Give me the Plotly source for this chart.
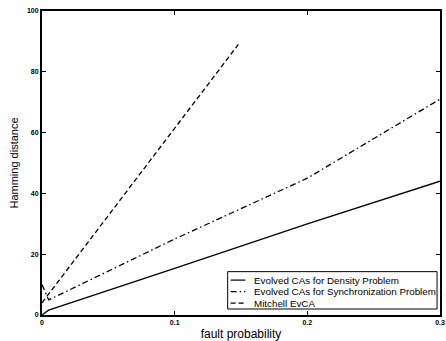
import plotly.graph_objects as go

density_x = [0, 0.005, 0.1, 0.2, 0.3]
density_y = [0, 1.6, 15.3, 30, 44]

sync_x = [0, 0.005, 0.01, 0.1, 0.2, 0.3]
sync_y = [10, 5, 6, 25, 45, 71]

mitchell_x = [0, 0.148]
mitchell_y = [4, 89]

names = ["Evolved CAs for Density Problem",
         "Evolved CAs for Synchronization Problem",
         "Mitchell EvCA"]
dashes = ["solid", "6px,3px,1.5px,3px", "5px,3px"]

FONT = "Liberation Sans, Arial"

fig = go.Figure()
for xs, ys, nm, ds in zip([density_x, sync_x, mitchell_x],
                          [density_y, sync_y, mitchell_y], names, dashes):
    fig.add_trace(go.Scatter(x=xs, y=ys, mode="lines", name=nm, showlegend=False,
                             line=dict(color="black", width=1.3, dash=ds)))

axis_common = dict(showgrid=False, zeroline=False, showline=True, linecolor="black",
                   linewidth=2, mirror="ticks", ticks="inside", ticklen=4,
                   tickcolor="black", tickwidth=1.2, ticklabeloverflow="allow",
                   tickfont=dict(family=FONT, size=7, color="black", weight="bold"))

# custom compact legend (paper coordinates)
shapes = [dict(type="rect", xref="paper", yref="paper", x0=0.4665, x1=0.9926,
               y0=0.0197, y1=0.1426, line=dict(color="black", width=1),
               fillcolor="white", layer="above")]
annotations = []
row_y = [0.1148, 0.077, 0.0393]
for nm, ds, yy in zip(names, dashes, row_y):
    shapes.append(dict(type="line", xref="paper", yref="paper", x0=0.474, x1=0.511,
                       y0=yy, y1=yy, line=dict(color="black", width=1.2, dash=ds),
                       layer="above"))
    annotations.append(dict(xref="paper", yref="paper", x=0.5285, y=yy, text=nm,
                            showarrow=False, xanchor="left", yanchor="middle",
                            font=dict(family=FONT, size=9.8, color="black")))

fig.update_layout(
    width=446, height=341,
    margin=dict(l=42, r=1, t=11, b=25),
    paper_bgcolor="white", plot_bgcolor="white",
    xaxis=dict(range=[0, 0.3], tickvals=[0, 0.1, 0.2, 0.3], ticktext=["0", "0.1", "0.2", "0.3"],
               title=dict(text="fault probability", standoff=5,
                          font=dict(family=FONT, size=12, color="black")),
               **axis_common),
    yaxis=dict(range=[0, 100], tickvals=[0, 20, 40, 60, 80, 100],
               title=dict(text="Hamming distance", standoff=6,
                          font=dict(family=FONT, size=11, color="black")),
               **axis_common),
    shapes=shapes,
    annotations=annotations,
    showlegend=False,
)

fig.write_html("out.html")
